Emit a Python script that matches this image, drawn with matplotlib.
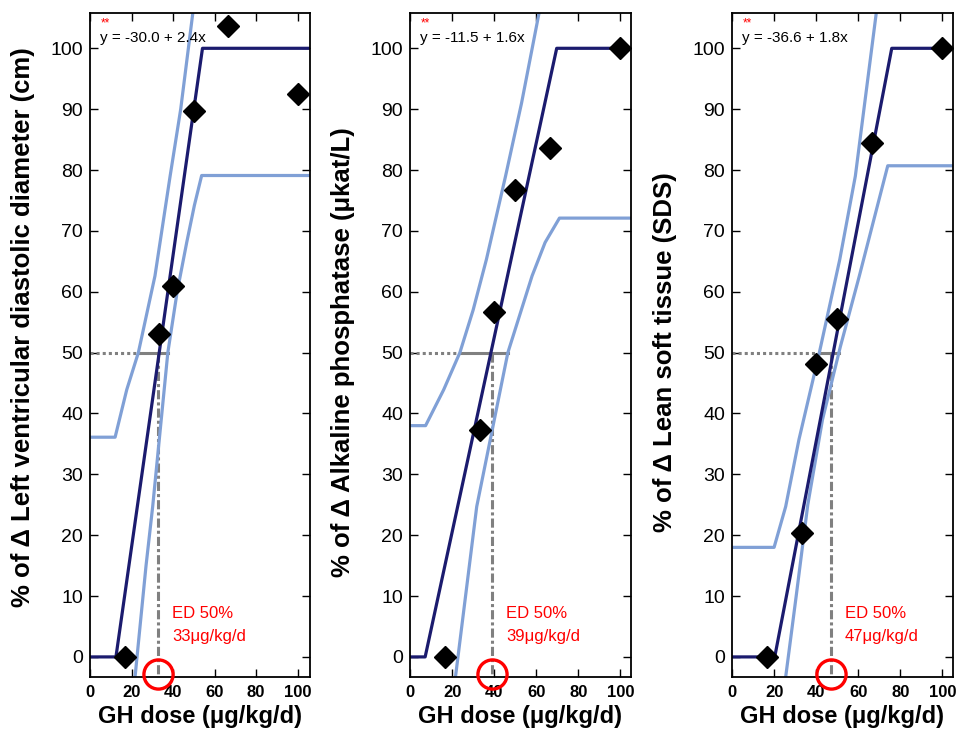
import matplotlib
matplotlib.use("Agg")
import matplotlib.pyplot as plt

plt.rcParams['font.family'] = ['Liberation Sans', 'DejaVu Sans']

# GH doses (ug/kg/d) of the six groups
doses = [16.7, 33.3, 40, 50, 66.7, 100]

# % of delta for each end point
lvdd_pct = [0, 53.0, 60.9, 89.7, 103.7, 92.5]
alp_pct = [0, 37.3, 56.6, 76.7, 83.7, 100]
lst_pct = [0, 20.3, 48.2, 55.5, 84.4, 100]

# fitted line (clipped at 0 and 100)
lvdd_fit_x = [0, 12.5, 54.2, 106]
lvdd_fit_y = [0, 0, 100, 100]
alp_fit_x = [0, 7.2, 69.7, 106]
alp_fit_y = [0, 0, 100, 100]
lst_fit_x = [0, 20.3, 75.9, 106]
lst_fit_y = [0, 0, 100, 100]

# upper confidence band
lvdd_hi_x = [0, 12.1, 17.7, 23.3, 31.3, 38.6, 43.7, 49.8]
lvdd_hi_y = [36.1, 36.1, 43.9, 50, 62.6, 79, 90, 106.5]
alp_hi_x = [0, 7.4, 16, 23.7, 30, 36.3, 45.4, 53, 61.7]
alp_hi_y = [38, 38, 43.9, 50, 57, 65.3, 79, 91, 106.5]
lst_hi_x = [0, 20, 25.5, 31.8, 41.5, 51.2, 58.6, 68.8]
lst_hi_y = [18, 18, 24.7, 35.7, 50, 65.3, 79, 106.5]

# lower confidence band
lvdd_lo_x = [21.7, 27, 30.2, 37.5, 42, 46.6, 50.3, 53.8, 106]
lvdd_lo_y = [-3.3, 15, 24.7, 50, 60, 68.1, 74.2, 79.1, 79.1]
alp_lo_x = [21.6, 31.7, 46.5, 58, 64.2, 71, 106]
alp_lo_y = [-3.3, 24.7, 50, 62.6, 68.1, 72.1, 72.1]
lst_lo_x = [25.5, 30.5, 36, 43, 51.5, 60.5, 74, 106]
lst_lo_y = [-3.3, 10, 25, 39, 51, 62.6, 80.7, 80.7]

# ED50 and where the 50% line crosses the bands
ed50 = [33, 39, 47]
ed50_hi = [24, 23.7, 41.5]
ed50_lo = [37.5, 46.4, 50.7]

equations = ["y = -30.0 + 2.4x", "y = -11.5 + 1.6x", "y = -36.6 + 1.8x"]
ylabels = ["% of \u0394 Left ventricular diastolic diameter (cm)",
           "% of \u0394 Alkaline phosphatase (\u03bckat/L)",
           "% of \u0394 Lean soft tissue (SDS)"]

DARK = '#1b1b6e'
LIGHT = '#80a0d6'
GRAY = '#808080'

panels = [
    (lvdd_pct, lvdd_fit_x, lvdd_fit_y, lvdd_hi_x, lvdd_hi_y, lvdd_lo_x, lvdd_lo_y, 106),
    (alp_pct, alp_fit_x, alp_fit_y, alp_hi_x, alp_hi_y, alp_lo_x, alp_lo_y, 105),
    (lst_pct, lst_fit_x, lst_fit_y, lst_hi_x, lst_hi_y, lst_lo_x, lst_lo_y, 105),
]
lefts = [90, 410, 732]
widths = [220, 221, 221]
label_y = [0.527, 0.49, 0.49]

fig = plt.figure(figsize=(9.62, 7.38), dpi=100)

for i, (pct, fx, fy, hx, hy, lx, ly, xmax) in enumerate(panels):
    ax = fig.add_axes([lefts[i] / 962, 1 - 677 / 738, widths[i] / 962, 664 / 738])
    ymin, ymax = -3.3, 105.8

    # 50% reference lines
    ax.plot([0, ed50_hi[i]], [50, 50], color=GRAY, lw=2.2, ls=(0, (1, 1)))
    ax.plot([ed50_hi[i], ed50_lo[i]], [50, 50], color=GRAY, lw=2.2)
    ax.plot([ed50[i], ed50[i]], [50, ymin], color=GRAY, lw=2.2, ls=(0, (3, 1, 1, 1)))

    ax.plot(hx, hy, color=LIGHT, lw=2.3)
    ax.plot(lx, ly, color=LIGHT, lw=2.3)
    ax.plot(fx, fy, color=DARK, lw=2.3)
    ax.plot(doses, pct, 'D', color='black', ms=11, zorder=5)

    ax.plot([ed50[i]], [-2.8], 'o', ms=21, mfc='none', mec='red', mew=2.4,
            clip_on=False, zorder=6)
    ax.text(ed50[i] + 6.6, 7.2, "ED 50%", color='red', fontsize=12, va='center')
    ax.text(ed50[i] + 6.6, 3.4, f"{ed50[i]}\u03bcg/kg/d", color='red', fontsize=12,
            va='center')

    ax.text(0.045, 0.962, equations[i], transform=ax.transAxes, fontsize=11,
            va='center')
    ax.text(0.05, 0.975, "**", transform=ax.transAxes, fontsize=8.5, color='red',
            va='bottom')

    ax.set_xlim(0, xmax)
    ax.set_ylim(ymin, ymax)
    ax.set_xticks(range(0, 101, 20))
    ax.set_yticks(range(0, 101, 10))
    ax.tick_params(direction='in', top=True, right=True, length=6, width=1)
    ax.tick_params(axis='x', labelsize=12, pad=6)
    ax.tick_params(axis='y', labelsize=14, pad=5)
    for lab in ax.get_xticklabels():
        lab.set_fontweight('bold')
    for s in ax.spines.values():
        s.set_linewidth(1.3)

    ax.set_xlabel("GH dose (\u03bcg/kg/d)", fontsize=17, fontweight='bold', labelpad=3)
    ax.set_ylabel(ylabels[i], fontsize=18.5, fontweight='bold')
    ax.yaxis.set_label_coords(-0.25, label_y[i])

fig.savefig("out.png", dpi=100)
